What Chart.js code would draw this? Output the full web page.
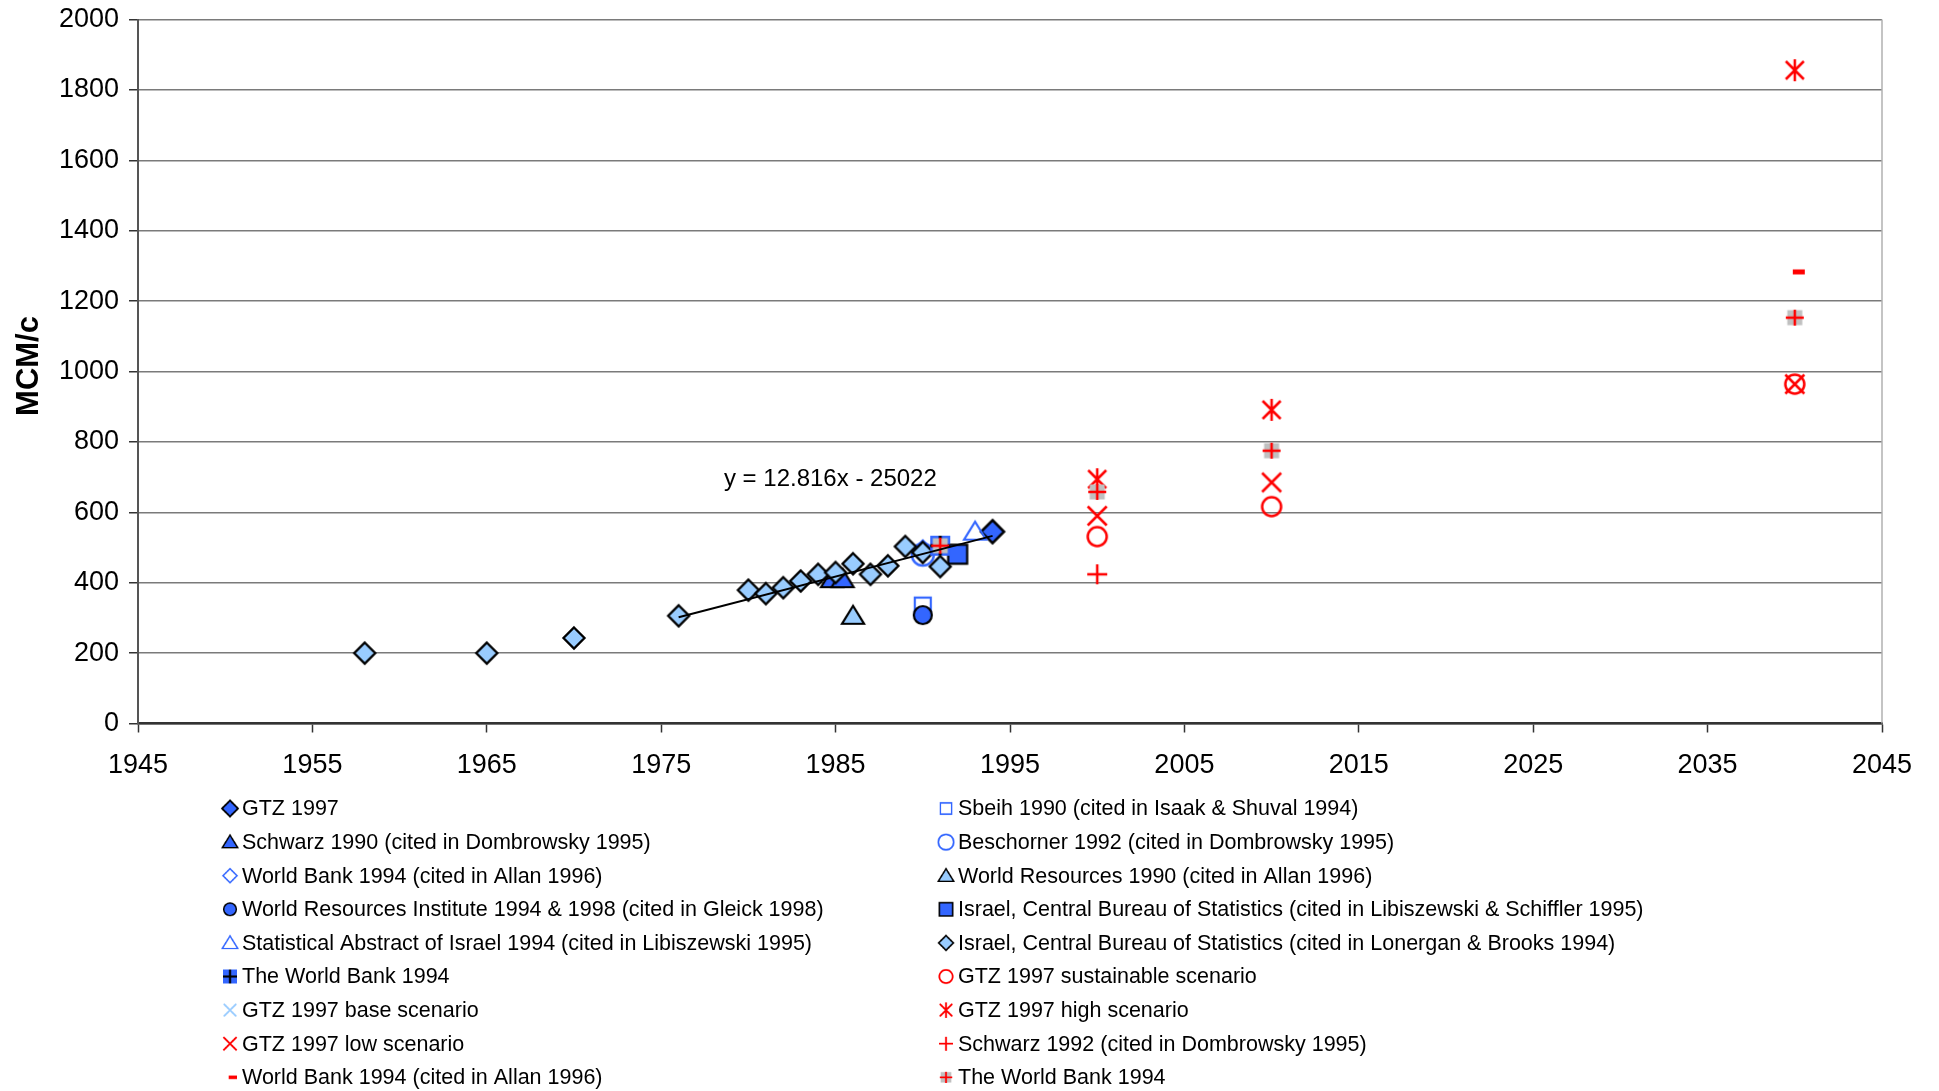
<!DOCTYPE html>
<html>
<head>
<meta charset="utf-8">
<script src="https://cdn.jsdelivr.net/npm/chart.js@4"></script>
<style>
  body { margin: 0; background: #fff; }
  #caixa { width: 1939px; height: 1091px; }
</style>
</head>
<body>
<div id="caixa"><canvas id="grafico"></canvas></div>
<script>
// Dados (ano, MCM)
const anosGtz = [1994];
const valGtz = [545];
const anosSbeih = [1990];
const valSbeih = [335];
const anosSchwarz90 = [1984.8, 1985.4];
const valSchwarz90 = [410, 410];
const anosBeschorner = [1990];
const valBeschorner = [480];
const anosWbAllan = [1990];
const valWbAllan = [492];
const anosWorldRes = [1986];
const valWorldRes = [306];
const anosWri = [1990];
const valWri = [308];
const anosCbsLib = [1992];
const valCbsLib = [481];
const anosStatAbs = [1993];
const valStatAbs = [545];
const anosCbsLon = [1958, 1965, 1970, 1976, 1980, 1981, 1982, 1983, 1984, 1985, 1986, 1987, 1988, 1989, 1990, 1991];
const valCbsLon = [200, 200, 243, 306, 379, 369, 386, 405, 424, 429, 454, 424, 448, 503, 486, 446];
const anosTwbAzul = [1991];
const valTwbAzul = [505];
const anosSustentavel = [2000, 2010, 2040];
const valSustentavel = [531, 616, 964];
const anosBase = [];
const valBase = [];
const anosAlto = [2000, 2010, 2040];
const valAlto = [694, 891, 1856];
const anosBaixo = [2000, 2010, 2040];
const valBaixo = [590, 685, 964];
const anosSchwarz92 = [2000];
const valSchwarz92 = [424];
const anosWbAllanVerm = [2040];
const valWbAllanVerm = [1283];
const anosTwbCinza = [1991, 2000, 2010, 2040];
const valTwbCinza = [505, 658, 775, 1153];

// Linha de tendência (extremos) e a equação
const anosTendencia = [1976, 1994];
const valTendencia = [302, 533];
const textoTendencia = 'y = 12.816x - 25022';
const posTextoTendencia = { x: 1984.7, y: 693 };

const ticksX = { min: 1945, max: 2045, passo: 10 };
const ticksY = { min: 0, max: 2000, passo: 200 };
const tituloY = 'MCM/c';

// Cores no estilo do Excel
const AZUL = '#3366FF';
const AZUL_CLARO = '#99CCFF';
const VERMELHO = '#FF0000';
const CINZA = '#C0C0C0';

// Cria um marcador desenhado num canvas pequeno
function criarMarcador(desenhar) {
  const c = document.createElement('canvas');
  c.width = 32; c.height = 32;
  const g = c.getContext('2d');
  g.translate(16, 16);
  g.lineJoin = 'miter';
  desenhar(g);
  return c;
}

function losango(r, fundo, borda, lw) {
  return criarMarcador(g => {
    g.beginPath();
    g.moveTo(0, -r); g.lineTo(r, 0); g.lineTo(0, r); g.lineTo(-r, 0); g.closePath();
    if (fundo) { g.fillStyle = fundo; g.fill(); }
    g.strokeStyle = borda; g.lineWidth = lw; g.stroke();
  });
}
function triangulo(r, fundo, borda, lw) {
  return criarMarcador(g => {
    g.beginPath();
    g.moveTo(0, -r); g.lineTo(r * 1.1, r * 0.8); g.lineTo(-r * 1.1, r * 0.8); g.closePath();
    if (fundo) { g.fillStyle = fundo; g.fill(); }
    g.strokeStyle = borda; g.lineWidth = lw; g.stroke();
  });
}
function quadrado(r, fundo, borda, lw) {
  return criarMarcador(g => {
    if (fundo) { g.fillStyle = fundo; g.fillRect(-r, -r, 2 * r, 2 * r); }
    g.strokeStyle = borda; g.lineWidth = lw; g.strokeRect(-r, -r, 2 * r, 2 * r);
  });
}
function circulo(r, fundo, borda, lw) {
  return criarMarcador(g => {
    g.beginPath(); g.arc(0, 0, r, 0, Math.PI * 2);
    if (fundo) { g.fillStyle = fundo; g.fill(); }
    g.strokeStyle = borda; g.lineWidth = lw; g.stroke();
  });
}
function linhas(segs, cor, lw) {
  return criarMarcador(g => {
    g.strokeStyle = cor; g.lineWidth = lw; g.lineCap = 'butt';
    g.beginPath();
    segs.forEach(s => { g.moveTo(s[0], s[1]); g.lineTo(s[2], s[3]); });
    g.stroke();
  });
}

const mk = {
  gtz: losango(11.5, AZUL, '#000', 2.5),
  sbeih: quadrado(8, null, AZUL, 2.2),
  schwarz90: triangulo(10, AZUL, '#000', 2.2),
  beschorner: circulo(11, null, AZUL, 2.5),
  wbAllan: losango(10, null, AZUL, 2.2),
  worldRes: triangulo(10, AZUL_CLARO, '#000', 2.2),
  wri: circulo(9, AZUL, '#000', 2.2),
  cbsLib: quadrado(9.5, AZUL, '#000', 2.2),
  statAbs: triangulo(10, null, AZUL, 2.2),
  cbsLon: losango(10.5, AZUL_CLARO, '#000', 2.3),
  twbAzul: criarMarcador(g => {
    g.fillStyle = AZUL; g.fillRect(-10, -10, 20, 20);
    g.strokeStyle = '#000'; g.lineWidth = 3;
    g.beginPath(); g.moveTo(-10, 0); g.lineTo(10, 0); g.moveTo(0, -10); g.lineTo(0, 10); g.stroke();
  }),
  sustentavel: circulo(9.5, null, VERMELHO, 2.5),
  base: linhas([[-9, -9, 9, 9], [-9, 9, 9, -9]], AZUL_CLARO, 2.5),
  alto: linhas([[-9, -9, 9, 9], [-9, 9, 9, -9], [0, -11, 0, 11]], VERMELHO, 2.5),
  baixo: linhas([[-9.5, -9.5, 9.5, 9.5], [-9.5, 9.5, 9.5, -9.5]], VERMELHO, 2.5),
  schwarz92: linhas([[-10, 0, 10, 0], [0, -10, 0, 10]], VERMELHO, 2.5),
  wbAllanVerm: criarMarcador(g => { g.fillStyle = VERMELHO; g.fillRect(-2, -2.5, 12, 5); }),
  twbCinza: criarMarcador(g => {
    g.fillStyle = CINZA; g.fillRect(-7.5, -7.5, 15, 15);
    g.strokeStyle = VERMELHO; g.lineWidth = 2.5;
    g.beginPath(); g.moveTo(-9, 0); g.lineTo(9, 0); g.moveTo(0, -8); g.lineTo(0, 8); g.stroke();
  })
};

// Séries na ordem do Excel (as últimas ficam por cima)
const series = [
  { nome: 'GTZ 1997', x: anosGtz, y: valGtz, m: mk.gtz },
  { nome: 'Sbeih 1990 (cited in Isaak & Shuval 1994)', x: anosSbeih, y: valSbeih, m: mk.sbeih },
  { nome: 'Schwarz 1990 (cited in Dombrowsky 1995)', x: anosSchwarz90, y: valSchwarz90, m: mk.schwarz90 },
  { nome: 'Beschorner 1992 (cited in Dombrowsky 1995)', x: anosBeschorner, y: valBeschorner, m: mk.beschorner },
  { nome: 'World Bank 1994 (cited in Allan 1996)', x: anosWbAllan, y: valWbAllan, m: mk.wbAllan },
  { nome: 'World Resources 1990 (cited in Allan 1996)', x: anosWorldRes, y: valWorldRes, m: mk.worldRes },
  { nome: 'World Resources Institute 1994 & 1998 (cited in Gleick 1998)', x: anosWri, y: valWri, m: mk.wri },
  { nome: 'Israel, Central Bureau of Statistics (cited in Libiszewski & Schiffler 1995)', x: anosCbsLib, y: valCbsLib, m: mk.cbsLib },
  { nome: 'Statistical Abstract of Israel 1994 (cited in Libiszewski 1995)', x: anosStatAbs, y: valStatAbs, m: mk.statAbs },
  { nome: 'Israel, Central Bureau of Statistics (cited in Lonergan & Brooks 1994)', x: anosCbsLon, y: valCbsLon, m: mk.cbsLon },
  { nome: 'The World Bank 1994', x: anosTwbAzul, y: valTwbAzul, m: mk.twbAzul },
  { nome: 'GTZ 1997 sustainable scenario', x: anosSustentavel, y: valSustentavel, m: mk.sustentavel },
  { nome: 'GTZ 1997 base scenario', x: anosBase, y: valBase, m: mk.base },
  { nome: 'GTZ 1997 high scenario', x: anosAlto, y: valAlto, m: mk.alto },
  { nome: 'GTZ 1997 low scenario', x: anosBaixo, y: valBaixo, m: mk.baixo },
  { nome: 'Schwarz 1992 (cited in Dombrowsky 1995)', x: anosSchwarz92, y: valSchwarz92, m: mk.schwarz92 },
  { nome: 'World Bank 1994 (cited in Allan 1996)', x: anosWbAllanVerm, y: valWbAllanVerm, m: mk.wbAllanVerm },
  { nome: 'The World Bank 1994', x: anosTwbCinza, y: valTwbCinza, m: mk.twbCinza }
];

const pontos = (xs, ys) => xs.map((x, i) => ({ x: x, y: ys[i] }));

const datasets = series.map((s, i) => ({
  label: s.nome,
  data: pontos(s.x, s.y),
  pointStyle: s.m,
  pointRadius: 10,
  showLine: false,
  order: series.length - i
}));
datasets.push({
  label: 'tendencia',
  data: pontos(anosTendencia, valTendencia),
  showLine: true,
  borderColor: '#000',
  borderWidth: 2,
  pointRadius: 0,
  order: -1
});

const FONTE = '"Liberation Sans", Arial, sans-serif';
Chart.defaults.font.family = FONTE;
Chart.defaults.color = '#000';

// Plugin: legenda em duas colunas, título do eixo Y, equação e borda direita
const extras = {
  id: 'extras',
  afterDraw(chart) {
    const ctx = chart.ctx;
    const area = chart.chartArea;
    const sx = chart.scales.x, sy = chart.scales.y;
    ctx.save();

    // borda direita do gráfico
    ctx.strokeStyle = '#b0b0b0'; ctx.lineWidth = 1.5;
    ctx.beginPath(); ctx.moveTo(area.right, area.top); ctx.lineTo(area.right, area.bottom); ctx.stroke();

    // equação da tendência
    ctx.fillStyle = '#000';
    ctx.font = '24px ' + FONTE;
    ctx.textAlign = 'center'; ctx.textBaseline = 'middle';
    ctx.fillText(textoTendencia, sx.getPixelForValue(posTextoTendencia.x), sy.getPixelForValue(posTextoTendencia.y));

    // título do eixo Y
    ctx.save();
    ctx.translate(29, 366);
    ctx.rotate(-Math.PI / 2);
    ctx.font = 'bold 31px ' + FONTE;
    ctx.fillText(tituloY, 0, 0);
    ctx.restore();

    // legenda
    ctx.font = '21.5px ' + FONTE;
    ctx.textAlign = 'left';
    const colunas = [{ mx: 230, tx: 242 }, { mx: 946, tx: 958 }];
    series.forEach((s, i) => {
      const col = colunas[i % 2];
      const y = 808.5 + Math.floor(i / 2) * 33.6;
      const esc = 0.7;
      const w = s.m.width * esc, h = s.m.height * esc;
      ctx.drawImage(s.m, col.mx - w / 2, y - h / 2, w, h);
      ctx.fillText(s.nome, col.tx, y + 1);
    });
    ctx.restore();
  }
};

new Chart(document.getElementById('grafico'), {
  type: 'scatter',
  data: { datasets: datasets },
  options: {
    responsive: true,
    maintainAspectRatio: false,
    animation: false,
    layout: { padding: { left: 0, top: 19.5, right: 57, bottom: 297.5 } },
    plugins: { legend: { display: false }, tooltip: { enabled: false } },
    scales: {
      x: {
        type: 'linear',
        min: ticksX.min, max: ticksX.max,
        ticks: { stepSize: ticksX.passo, padding: 16.5, font: { size: 27 }, color: '#000', callback: v => String(v) },
        grid: { drawOnChartArea: false, drawTicks: true, tickLength: 9, tickColor: '#333', tickWidth: 1.5 },
        border: { color: '#333', width: 2.5 },
        afterFit: s => { s.height = 70; s.paddingLeft = 0; s.paddingRight = 0; }
      },
      y: {
        min: ticksY.min, max: ticksY.max,
        ticks: { stepSize: ticksY.passo, padding: 10, font: { size: 27 }, color: '#000', callback: v => String(v) },
        grid: { color: '#7a7a7a', lineWidth: 1.5, tickLength: 9, tickColor: '#333', tickWidth: 1.5 },
        border: { color: '#555', width: 2 },
        afterFit: s => { s.width = 138; s.paddingTop = 0; s.paddingBottom = 0; }
      }
    }
  },
  plugins: [extras]
});
</script>
</body>
</html>
